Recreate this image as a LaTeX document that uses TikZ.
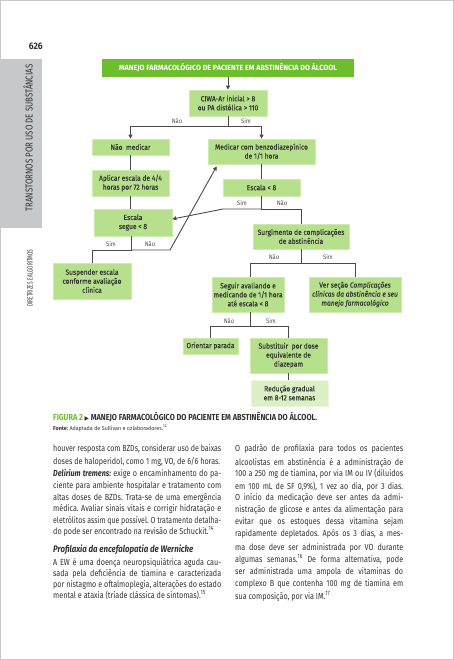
\documentclass[tikz,border=0pt]{standalone}
\usepackage{fontspec}
\setmainfont{Fira Sans}[FakeStretch=0.82]
\newfontfamily\boxff{Fira Sans}[FakeStretch=0.9,FakeBold=0.1]
\newfontfamily\labff{Fira Sans}[FakeStretch=0.9]
\newfontfamily\symff{DejaVu Sans}
\usetikzlibrary{arrows.meta}
\definecolor{gr}{HTML}{6CBE2D}
\definecolor{lg}{HTML}{B6E08B}
\definecolor{lgb}{HTML}{CDEBAE}
\definecolor{vlg}{HTML}{DCF0C6}
\definecolor{lnc}{HTML}{4A4A4A}
\definecolor{tx}{HTML}{333333}
\definecolor{tabc}{HTML}{C7C8CA}
\definecolor{framec}{HTML}{C9C9C9}
\newcommand\hfit[2]{\resizebox{#1}{\height}{#2}}
\newcommand\jline[2]{\setbox0\hbox{#2}\ifdim\wd0>#1\relax\resizebox{#1}{\height}{#2}\else\hbox to #1{#2}\fi}
\newcommand\bodyf{\fontsize{8.8}{10}\selectfont}
\newcommand\boxf{\boxff\fontsize{7.4}{9}\selectfont}
\frenchspacing
\begin{document}
\begin{tikzpicture}[x=1pt,y=-1pt,
  box/.style={fill=lg, draw=lgb, line width=0.7pt, inner sep=0pt, align=center, font=\boxf, text=tx},
  bx/.style 2 args={box, minimum width=#1pt, minimum height=#2pt},
  titlebox/.style={fill=gr, minimum width=252pt, minimum height=18pt, inner sep=0pt, text=white, font=\labff\bfseries\fontsize{7.5}{9}\selectfont},
  line/.style={draw=lnc, line width=0.9pt},
  arr/.style={line, -{Triangle[length=4pt,width=4pt]}},
  lab/.style={inner sep=0pt, font=\labff\fontsize{6.4}{7}\selectfont, text=tx!85},
  txt/.style={anchor=base west, inner sep=0pt, font=\bodyf, text=tx},
]
\path[use as bounding box] (0,0) rectangle (454,660);
\fill[white] (0,0) rectangle (454,660);
\fill[tabc] (0,59) rectangle (42,228);
\draw[framec, line width=1.2pt] (0.6,0.6) rectangle (453.4,659.4);

% side texts
\node[anchor=east, inner sep=0pt, text=tx, font=\bfseries\fontsize{9.5}{10}\selectfont] (pg) at (43,46) {\hfit{14pt}{626}};
\node[rotate=90, inner sep=0pt, text=tx, font=\fontsize{10}{11}\selectfont] (tabtxt) at (28,138) {\hfit{147pt}{TRANSTORNOS POR USO DE SUBSTÂNCIAS}};
\node[rotate=90, inner sep=0pt, text=tx, font=\fontsize{7.5}{8}\selectfont] (dir) at (30,278) {\hfit{57pt}{DIRETRIZES E ALGORITMOS}};

% flowchart
\node[titlebox] (title) at (228,68) {\hfit{218pt}{MANEJO FARMACOLÓGICO DE PACIENTE EM ABSTINÊNCIA DO ÁLCOOL}};
\node[bx={78}{26}] (ciwa) at (228,103) {CIWA-Ar inicial > 8\\ou PA distólica > 110};
\node[bx={77}{16}] (naomed) at (130.5,147) {Não\ \ medicar};
\node[bx={107}{25}] (medicar) at (261.5,151.5) {Medicar com benzodiazepínico\\de 1/1 hora};
\node[bx={77}{26}] (aplicar) at (130.5,183) {Aplicar escala de 4/4\\horas por 72 horas};
\node[bx={77}{17}] (escala8) at (261.5,187.5) {Escala < 8};
\node[bx={78}{27}] (segue) at (133,222.5) {Escala\\segue < 8};
\node[bx={78}{36}] (suspender) at (92,281) {Suspender escala\\conforme avaliação\\clínica};
\node[bx={96}{25}] (surg) at (301,236.5) {Surgimento de complicações\\de abstinência};
\node[bx={72}{35}] (seguir) at (248,294.5) {Seguir avaliando e\\medicando de 1/1 hora\\até escala < 8};
\node[bx={92}{35}] (ver) at (355,294.5) {Ver seção \textit{Complicações}\\\textit{clínicas da abstinência e seu}\\\textit{manejo farmacológico}};
\node[bx={55}{16}] (orientar) at (210.5,346) {Orientar parada};
\node[bx={77}{35}] (subst) at (288.5,355.5) {Substituir\ \ por dose\\equivalente de\\diazepam};
\node[bx={77}{26}, fill=vlg, draw=vlg!60!white] (reducao) at (289.5,393) {Redução gradual\\em 8-12 semanas};

\coordinate (b1) at (228,126);
\coordinate (b2) at (261.5,209);
\coordinate (c2) at (223,209);
\coordinate (b3) at (131,250);
\coordinate (c3) at (170,250);
\coordinate (b4) at (301,263);
\coordinate (b5) at (250,326);

\draw[arr] (title.south) -- (ciwa.north);
\draw[arr] (ciwa.south) -- (b1) -| (naomed.north);
\draw[arr] (b1) -| (medicar.north);
\draw[line] (naomed) -- (naomed.south |- aplicar.north);
\draw[line] (aplicar.south) -- (aplicar.south |- segue.north);
\draw[line] (medicar) -- (escala8);
\draw[line] (escala8.south) -- (b2) -| (surg.north);
\draw[arr] (b2) -- (c2) -- (segue.5);
\draw[line] (b3 |- segue.south) -- (b3) -| (suspender.north);
\draw[arr] (b3) -- (c3) -- ([shift={(9,2)}]medicar.south west);
\draw[line] (surg.south) -- (b4) -| (b5 |- seguir.north);
\draw[line] (b4) -| (ver.north);
\draw[line] (b5 |- seguir.south) -- (b5) -| (orientar.north);
\draw[line] (b5) -| (subst.north);
\draw[line] (subst.south) -- (subst.south |- reducao.north);

\node[lab] (l1) at (177,121) {Não};
\node[lab] (l2) at (246,121) {Sim};
\node[lab] (l3) at (242,203) {Sim};
\node[lab] (l4) at (282,203) {Não};
\node[lab] (l5) at (111,244) {Sim};
\node[lab] (l6) at (150,244) {Não};
\node[lab] (l7) at (274,257) {Não};
\node[lab] (l8) at (328,257) {Sim};
\node[lab] (l9) at (229,321) {Não};
\node[lab] (l10) at (271,321) {Sim};

% caption
\node[txt, font=\labff\bfseries\fontsize{8.7}{10}\selectfont] (cap) at (53,420.3) {\hfit{264pt}{\textcolor{gr}{FIGURA 2} {\symff\fontsize{6}{7}\selectfont ▶} MANEJO FARMACOLÓGICO DO PACIENTE EM ABSTINÊNCIA DO ÁLCOOL.}};
\node[txt, font=\fontsize{5.6}{6}\selectfont] (fonte) at (53,430.3) {\hfit{114pt}{\textbf{Fonte:} Adaptada de Sullivan e colaboradores.\textsuperscript{12}}};

% left column
\node[txt] (a1) at (53,451.8) {\jline{168pt}{houver resposta com BZDs, considerar uso de baixas}};
\node[txt] (a2) at (53,464.2) {doses de haloperidol, como 1 mg, VO, de 6/6 horas.};
\node[txt] (a3) at (53,476.8) {\jline{168pt}{\textbf{\textit{Delirium tremens:}} exige o encaminhamento do pa-}};
\node[txt] (a4) at (53,488.5) {\jline{168pt}{ciente para ambiente hospitalar e tratamento com}};
\node[txt] (a5) at (53,500.2) {\jline{168pt}{altas doses de BZDs. Trata-se de uma emergência}};
\node[txt] (a6) at (53,511.8) {\jline{168pt}{médica. Avaliar sinais vitais e corrigir hidratação e}};
\node[txt] (a7) at (53,523.2) {\jline{168pt}{eletrólitos assim que possível. O tratamento detalha-}};
\node[txt] (a8) at (53,534.2) {do pode ser encontrado na revisão de Schuckit.\textsuperscript{14}};
\node[txt, font=\bfseries\itshape\fontsize{9.5}{11}\selectfont] (h1) at (53,552.2) {\hfit{140pt}{Profilaxia da encefalopatia de Wernicke}};
\node[txt] (a9) at (53,565.5) {\jline{168pt}{A EW é uma doença neuropsiquiátrica aguda cau-}};
\node[txt] (a10) at (53,576) {\jline{168pt}{sada pela deficiência de tiamina e caracterizada}};
\node[txt] (a11) at (53,587) {\jline{168pt}{por nistagmo e oftalmoplegia, alterações do estado}};
\node[txt] (a12) at (53,598.5) {mental e ataxia (tríade clássica de sintomas).\textsuperscript{15}};

% right column
\node[txt] (r1) at (235,451.8) {\jline{168pt}{O padrão de profilaxia para todos os pacientes}};
\node[txt] (r2) at (235,465.2) {\jline{168pt}{alcoolistas em abstinência é a administração de}};
\node[txt] (r3) at (235,476.8) {\jline{168pt}{100 a 250 mg de tiamina, por via IM ou IV (diluídos}};
\node[txt] (r4) at (235,489.2) {\jline{168pt}{em 100 mL de SF 0,9\%), 1 vez ao dia, por 3 dias.}};
\node[txt] (r5) at (235,500.8) {\jline{168pt}{O início da medicação deve ser antes da admi-}};
\node[txt] (r6) at (235,512.5) {\jline{168pt}{nistração de glicose e antes da alimentação para}};
\node[txt] (r7) at (235,524.2) {\jline{168pt}{evitar que os estoques dessa vitamina sejam}};
\node[txt] (r8) at (235,536.5) {\jline{168pt}{rapidamente depletados. Após os 3 dias, a mes-}};
\node[txt] (r9) at (235,550.2) {\jline{168pt}{ma dose deve ser administrada por VO durante}};
\node[txt] (r10) at (235,562.5) {\jline{168pt}{algumas semanas.\textsuperscript{16} De forma alternativa, pode}};
\node[txt] (r11) at (235,574.8) {\jline{168pt}{ser administrada uma ampola de vitaminas do}};
\node[txt] (r12) at (235,586.8) {\jline{168pt}{complexo B que contenha 100 mg de tiamina em}};
\node[txt] (r13) at (235,599.2) {sua composição, por via IM.\textsuperscript{17}};
\end{tikzpicture}
\end{document}
